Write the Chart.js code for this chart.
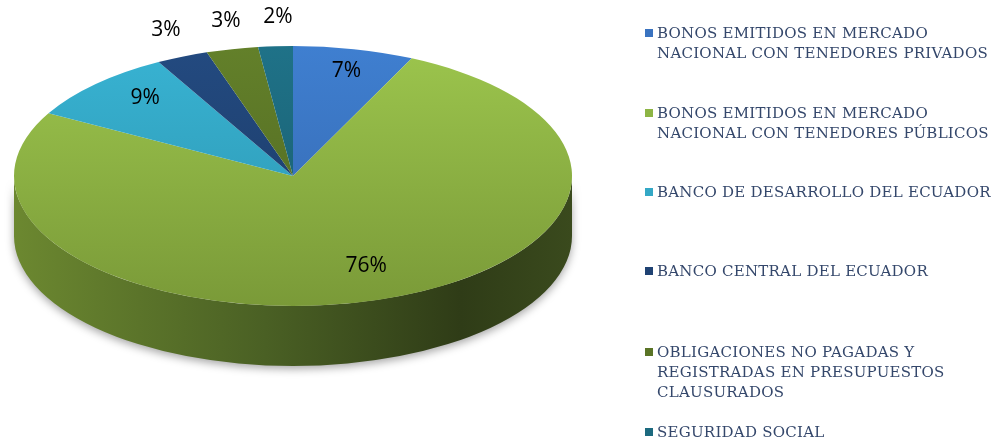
<!DOCTYPE html>
<html>
<head>
<meta charset="utf-8">
<script src="https://cdn.jsdelivr.net/npm/chart.js@4/dist/chart.umd.min.js"></script>
<style>
  body { margin: 0; background: #fff; width: 995px; height: 439px; overflow: hidden; position: relative; }
  #chartDeuda { position: absolute; left: 0; top: 0; }
  .leyenda { position: absolute; left: 645px; font-family: "DejaVu Serif", serif; font-size: 15px; letter-spacing: 0.25px; line-height: 20px; color: #34476b; white-space: nowrap; }
  .leyenda span.cuadro { position: absolute; left: 0; top: 6px; width: 8px; height: 8px; }
  .leyenda div.texto { margin-left: 12px; }
</style>
</head>
<body>
<canvas id="chartDeuda" width="995" height="439"></canvas>
<div id="leyenda"></div>
<script>
const categorias = [
  "BONOS EMITIDOS EN MERCADO\nNACIONAL CON TENEDORES PRIVADOS",
  "BONOS EMITIDOS EN MERCADO\nNACIONAL CON TENEDORES PÚBLICOS",
  "BANCO DE DESARROLLO DEL ECUADOR",
  "BANCO CENTRAL DEL ECUADOR",
  "OBLIGACIONES NO PAGADAS Y\nREGISTRADAS EN PRESUPUESTOS\nCLAUSURADOS",
  "SEGURIDAD SOCIAL",
];
const porcentajes = [7, 76, 9, 3, 3, 2];

const coloresArriba = ["#3f7fd0", "#9cc54d", "#38b3d3", "#234a80", "#63802a", "#1f7288"];
const coloresAbajo  = ["#3466ad", "#7a9a38", "#2c93ad", "#1b3a65", "#4f6621", "#185a6b"];
const coloresLeyenda = ["#3a73c0", "#8db545", "#34a8c6", "#1f4273", "#5a7426", "#1c6a7f"];
const toposLeyenda = [23, 103, 182, 261, 342, 422];

// pie geometry in the picture
const centroX = 293;
const centroY = 176;
const radioX = 279;
const radioY = 130;
const grosor = 60;

const canvas = document.getElementById("chartDeuda");
const ctx = canvas.getContext("2d");

const pie3d = {
  id: "pie3d",
  beforeDatasetsDraw(chart) {
    const c = chart.ctx;
    const arcos = chart.getDatasetMeta(0).data;
    const { x: cx, y: cy, outerRadius: r } = arcos[0];
    c.save();
    c.translate(centroX, centroY);
    c.scale(radioX / r, radioY / r);
    c.translate(-cx, -cy);

    const dep = grosor * r / radioY;
    arcos.forEach((a, i) => {
      const s = Math.max(a.startAngle, 0);
      const e = Math.min(a.endAngle, Math.PI);
      if (e <= s) return;
      const grad = c.createLinearGradient(cx - r, 0, cx + r, 0);
      grad.addColorStop(0, "#6c8830");
      grad.addColorStop(0.45, "#4a6024");
      grad.addColorStop(0.8, "#2f3c17");
      grad.addColorStop(1, "#3a4a1d");
      c.save();
      c.shadowColor = "rgba(0,0,0,0.35)";
      c.shadowBlur = 8;
      c.shadowOffsetY = 3;
      c.beginPath();
      c.arc(cx, cy, r, s, e);
      c.arc(cx, cy + dep, r, e, s, true);
      c.closePath();
      c.fillStyle = grad;
      c.fill();
      c.restore();
    });
  },
  afterDatasetsDraw(chart) {
    const c = chart.ctx;
    c.restore();
    const arcos = chart.getDatasetMeta(0).data;
    c.save();
    c.font = "normal 400 21px 'Open Sans', 'Noto Sans', sans-serif";
    c.fillStyle = "#000";
    c.textAlign = "center";
    c.textBaseline = "middle";
    arcos.forEach((a, i) => {
      const mid = (a.startAngle + a.endAngle) / 2;
      const fuera = porcentajes[i] < 5;
      const f = fuera ? 1.2 : 0.78;
      // labels sit a bit higher than the flat ellipse centre (perspective)
      const x = centroX + radioX * f * Math.cos(mid) + 6;
      const y = centroY + radioY * f * Math.sin(mid) - (fuera ? 3 : 6);
      c.fillText(porcentajes[i] + "%", x, y);
    });
    c.restore();
  },
};

const chartDeuda = new Chart(ctx, {
  type: "pie",
  data: {
    labels: categorias,
    datasets: [
      {
        data: porcentajes,
        clip: false,
        borderWidth: 0,
        backgroundColor: (context) => {
          const chart = context.chart;
          const area = chart.chartArea;
          if (!area) return coloresArriba[context.dataIndex];
          const g = chart.ctx.createLinearGradient(0, area.top, 0, area.bottom);
          g.addColorStop(0, coloresArriba[context.dataIndex]);
          g.addColorStop(1, coloresAbajo[context.dataIndex]);
          return g;
        },
      },
    ],
  },
  options: {
    responsive: false,
    animation: false,
    events: [],
    plugins: {
      legend: { display: false },
      tooltip: { enabled: false },
    },
  },
  plugins: [pie3d],
});

const leyenda = document.getElementById("leyenda");
categorias.forEach((nombre, i) => {
  const item = document.createElement("div");
  item.className = "leyenda";
  item.style.top = toposLeyenda[i] + "px";
  const cuadro = document.createElement("span");
  cuadro.className = "cuadro";
  cuadro.style.background = coloresLeyenda[i];
  const texto = document.createElement("div");
  texto.className = "texto";
  texto.innerHTML = nombre.split("\n").join("<br>");
  item.appendChild(cuadro);
  item.appendChild(texto);
  leyenda.appendChild(item);
});
</script>
</body>
</html>
